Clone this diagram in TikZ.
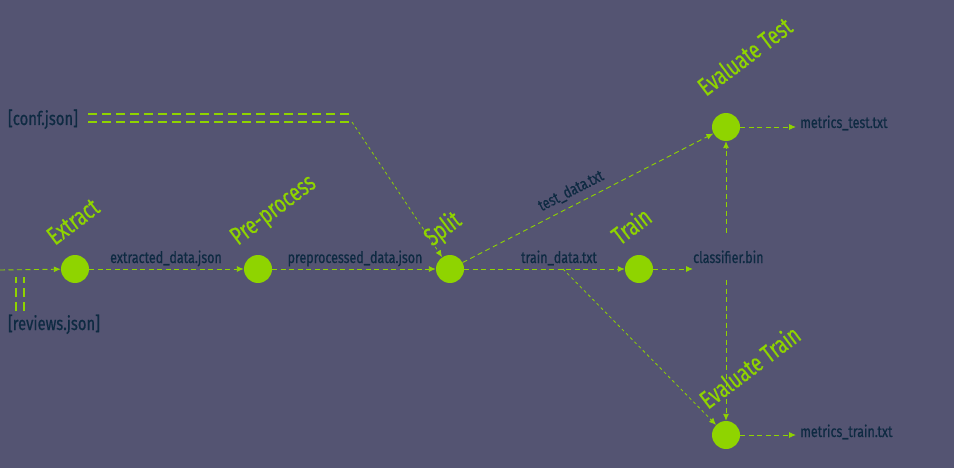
\documentclass[tikz,border=0pt]{standalone}
\usepackage{fontspec}
\setmainfont{Fira Sans}[FakeStretch=0.78,FakeBold=0.6]
\newfontfamily\titlefont{Fira Sans}[FakeStretch=0.73,FakeBold=0.4]
\usetikzlibrary{arrows.meta}
\definecolor{bg}{RGB}{84,84,114}
\definecolor{lime}{RGB}{143,212,0}
\definecolor{ink}{RGB}{14,42,66}
\begin{document}
\begin{tikzpicture}[x=1pt,y=-1pt,
  stage/.style={circle,fill=lime,minimum size=28pt,inner sep=0},
  title/.style={text=lime,font=\titlefont\fontsize{25.5}{25.5}\selectfont,rotate=37,anchor=base west,inner sep=0},
  file/.style={text=ink,font=\fontsize{16}{16}\selectfont,inner sep=0},
  input/.style={text=ink,font=\fontsize{19}{19}\selectfont,inner sep=0},
  flow/.style={draw=lime,line width=0.9pt,dash pattern=on 5pt off 3.5pt,-{Latex[length=7pt,width=6pt]}},
  fine/.style={draw=lime,line width=0.8pt,dash pattern=on 3pt off 3pt,-{Latex[length=7pt,width=6pt]}},
  dbl/.style={draw=lime,line width=2pt,double=bg,double distance=6pt,dash pattern=on 9pt off 5pt}]
\fill[bg] (0,0) rectangle (954,468);
\useasboundingbox (0,0) rectangle (954,468);
% stages
\node[stage] (E) at (75,269) {};
\node[stage] (P) at (258,269) {};
\node[stage] (S) at (450,269) {};
\node[stage] (T) at (639,269) {};
\node[stage] (ET) at (726,127) {};
\node[stage] (ETr) at (726,435) {};
% titles
\node[title] (tE) at (55,246) {Extract};
\node[title] (tP) at (238,246) {Pre-process};
\node[title] (tS) at (432,247) {Split};
\node[title] (tT) at (620,246) {Train};
\node[title] (tET) at (706,97) {Evaluate Test};
\node[title] (tETr) at (708,410) {Evaluate Train};
% inputs
\node[input,anchor=base] (conf) at (43,125) {[conf.json]};
\node[input,anchor=base] (rev) at (54,330) {[reviews.json]};
% file labels
\node[file,anchor=base] (l1) at (166,263) {extracted\_data.json};
\node[file,anchor=base] (l2) at (355,263) {preprocessed\_data.json};
\node[file,anchor=base] (l3) at (559,263) {train\_data.txt};
\node[file,anchor=base west] (cb) at (693,263) {classifier.bin};
\node[file,anchor=base west] (mt) at (800,128) {metrics\_test.txt};
\node[file,anchor=base west] (mtr) at (800,437) {metrics\_train.txt};
\node[file,rotate=27] (l4) at (571,191) {test\_data.txt};
% coordinates
\coordinate (in) at (0,270);
\coordinate (ce) at (351,118);
\coordinate (ce2) at (352,122);
\coordinate (rt) at (20,277);
\coordinate (td) at (563,269);
\coordinate (cbin) at (693,269);
\coordinate (cbtop) at (726,233);
\coordinate (cbbot) at (726,280);
% connectors
\draw[dbl,shorten <=10pt] (conf.east |- ce) -- (ce);
\draw[fine] (ce2) -- (S);
\draw[dbl] (rt |- rev.north) ++(0,-3) -- (rt);
\draw[flow] (in) -- (E);
\draw[flow] (E) -- (P);
\draw[flow] (P) -- (S);
\draw[flow] (S) -- (T);
\draw[flow] (S) -- (ET);
\draw[fine] (td) -- (ETr);
\draw[flow] (T) -- (cbin);
\draw[flow] (cbtop) -- (ET);
\draw[flow] (cbbot) -- (ETr);
\draw[flow] (ET) -- ([xshift=-4pt]mt.west |- ET);
\draw[flow] (ETr) -- ([xshift=-4pt]mtr.west |- ETr);
\end{tikzpicture}
\end{document}
